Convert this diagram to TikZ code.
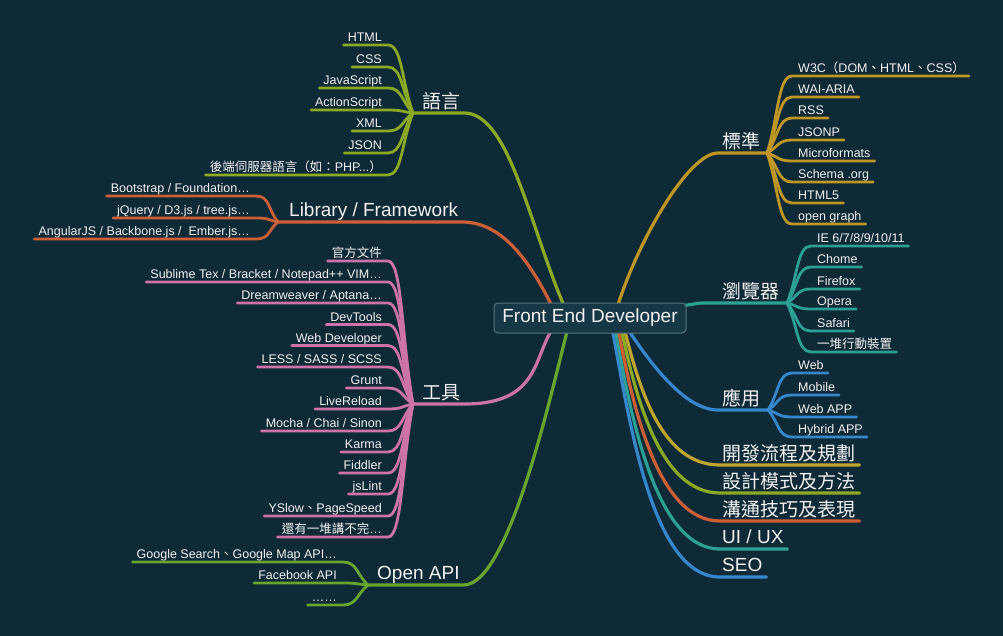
\documentclass[tikz,border=0pt]{standalone}
\usepackage{fontspec}
\setmainfont{Liberation Sans}
\newfontfamily\cjk{Noto Sans CJK TC}
\usetikzlibrary{calc}
\definecolor{bg}{RGB}{15,42,55}
\definecolor{boxfill}{RGB}{22,56,70}
\definecolor{boxdraw}{RGB}{85,115,125}
\definecolor{clang}{RGB}{138,170,35}
\definecolor{clib}{RGB}{205,95,55}
\definecolor{ctool}{RGB}{205,115,170}
\definecolor{capi}{RGB}{105,165,45}
\definecolor{cstd}{RGB}{190,150,35}
\definecolor{cbro}{RGB}{45,160,150}
\definecolor{capp}{RGB}{55,135,205}
\definecolor{cdev}{RGB}{190,165,45}
\definecolor{txt}{RGB}{242,242,242}
\tikzset{
  leafline/.style={line width=2.8pt,line cap=round},
  mainline/.style={line width=3.2pt,line cap=round},
  lefttext/.style={anchor=base east,inner xsep=4pt,inner ysep=0pt,text=txt,font=\fontsize{12.5}{15}\selectfont},
  righttext/.style={anchor=base west,inner xsep=4pt,inner ysep=0pt,text=txt,font=\fontsize{12.5}{15}\selectfont},
  topic/.style={anchor=base west,inner xsep=4pt,inner ysep=0pt,text=txt,font=\fontsize{19}{22}\selectfont},
  centerbox/.style={fill=boxfill,draw=boxdraw,line width=1pt,rounded corners=4pt,minimum width=192pt,minimum height=30pt,inner sep=0pt,text=txt,font=\fontsize{19}{22}\selectfont}
}
\newcommand\lleaf[6]{%
  \node[lefttext] (#1) at (#4+4,#5-3.5) {#6};
  \coordinate (#1e) at (#4+6,#5);
  \draw[leafline,#3] (#2) .. controls ($(#2)!0.45!(#1e)$) and +(14,0) .. (#1e) -- (#1.west |- #1e);
}
\newcommand\rleaf[6]{%
  \node[righttext] (#1) at (#4-4,#5-3.5) {#6};
  \coordinate (#1e) at (#4-6,#5);
  \draw[leafline,#3] (#2) .. controls ($(#2)!0.45!(#1e)$) and +(-14,0) .. (#1e) -- (#1.east |- #1e);
}
\begin{document}
\begin{tikzpicture}[x=1pt,y=-1pt]
\useasboundingbox (0,0) rectangle (1003,636);
\fill[bg] (0,0) rectangle (1003,636);

% junctions and attach points
\coordinate (Jlang) at (413,113);
\coordinate (Jlib) at (278,222);
\coordinate (Jtool) at (413,404);
\coordinate (Japi) at (368,585);
\coordinate (Jstd) at (767,153);
\coordinate (Jbro) at (787,303);
\coordinate (Japp) at (768,410);
\coordinate (Clang) at (565,308);
\coordinate (Clib) at (553,308);
\coordinate (Ctool) at (553,328);
\coordinate (Capi) at (568,328);
\coordinate (Cstd) at (617,308);
\coordinate (Cbro) at (680,306);
\coordinate (Capp) at (627,328);
\coordinate (Cdev) at (624,328);
\coordinate (Cdes) at (621,328);
\coordinate (Ccom) at (618,328);
\coordinate (Cui) at (615,328);
\coordinate (Cseo) at (612,328);

% topic labels
\node[topic] (lang) at (418,108.5) {\cjk 語言};
\node[topic] (lib) at (285,216.3) {Library / Framework};
\node[topic] (tool) at (418,399.5) {\cjk 工具};
\node[topic] (api) at (373,579.3) {Open API};
\node[topic] (std) at (718,148.5) {\cjk 標準};
\node[topic] (bro) at (718,298.5) {\cjk 瀏覽器};
\node[topic] (app) at (718,405.5) {\cjk 應用};
\node[topic] (dev) at (718,460.5) {\cjk 開發流程及規劃};
\node[topic] (des) at (718,488.5) {\cjk 設計模式及方法};
\node[topic] (com) at (718,516.5) {\cjk 溝通技巧及表現};
\node[topic] (ui) at (718,543.3) {UI / UX};
\node[topic] (seo) at (718,571.3) {SEO};

\coordinate (Edev) at (720,465);
\coordinate (Edes) at (720,493);
\coordinate (Ecom) at (720,521);
\coordinate (Eui) at (720,549);
\coordinate (Eseo) at (720,577);

% main branches
\draw[mainline,clang] (Jlang) -- (lang.east |- Jlang) .. controls +(45,0) and +(-35,-80) .. (Clang);
\draw[mainline,clib] (Jlib) -- (lib.east |- Jlib) .. controls +(43,0) and +(-20,-40) .. (Clib);
\draw[mainline,ctool] (Jtool) -- (tool.east |- Jtool) .. controls +(75,0) and +(-20,30) .. (Ctool);
\draw[mainline,capi] (Japi) -- (api.east |- Japi) .. controls +(47,0) and +(-13,47) .. (Capi);
\draw[mainline,cstd] (Cstd) .. controls +(20,-65) and +(-30,0) .. (std.west |- Jstd) -- (Jstd);
\draw[mainline,cbro] (Cbro) .. controls +(25,-3) and +(-30,0) .. (bro.west |- Jbro) -- (Jbro);
\draw[mainline,capp] (Capp) .. controls +(20,30) and +(-35,0) .. (app.west |- Japp) -- (Japp);
\draw[mainline,capp] (Cseo) .. controls +(18,95) and +(-68,0) .. (Eseo) -- (seo.east |- Eseo);
\draw[mainline,cbro] (Cui) .. controls +(16,90) and +(-64,0) .. (Eui) -- (ui.east |- Eui);
\draw[mainline,clib] (Ccom) .. controls +(15,80) and +(-62,0) .. (Ecom) -- (com.east |- Ecom);
\draw[mainline,clang] (Cdes) .. controls +(15,70) and +(-60,0) .. (Edes) -- (des.east |- Edes);
\draw[mainline,cdev] (Cdev) .. controls +(15,58) and +(-60,0) .. (Edev) -- (dev.east |- Edev);

% center
\node[centerbox] (center) at (590,318) {Front End Developer};

% language leaves
\lleaf{l1}{Jlang}{clang}{382}{45}{HTML}
\lleaf{l2}{Jlang}{clang}{382}{67}{CSS}
\lleaf{l3}{Jlang}{clang}{382}{88}{JavaScript}
\lleaf{l4}{Jlang}{clang}{382}{110}{ActionScript}
\lleaf{l5}{Jlang}{clang}{382}{131}{XML}
\lleaf{l6}{Jlang}{clang}{382}{153}{JSON}
\lleaf{l7}{Jlang}{clang}{382}{175}{{\cjk 後端伺服器語言（如：}PHP...{\cjk ）}}

% library leaves
\lleaf{b1}{Jlib}{clib}{250}{196}{Bootstrap / Foundation…}
\lleaf{b2}{Jlib}{clib}{250}{218}{jQuery / D3.js / tree.js…}
\lleaf{b3}{Jlib}{clib}{250}{239}{AngularJS / Backbone.js / \ Ember.js…}

% tool leaves
\lleaf{t1}{Jtool}{ctool}{382}{261}{\cjk 官方文件}
\lleaf{t2}{Jtool}{ctool}{382}{282}{Sublime Tex / Bracket / Notepad++ VIM…}
\lleaf{t3}{Jtool}{ctool}{382}{303}{Dreamweaver / Aptana…}
\lleaf{t4}{Jtool}{ctool}{382}{324.5}{DevTools}
\lleaf{t5}{Jtool}{ctool}{382}{345.5}{Web Developer}
\lleaf{t6}{Jtool}{ctool}{382}{367}{LESS / SASS / SCSS}
\lleaf{t7}{Jtool}{ctool}{382}{388}{Grunt}
\lleaf{t8}{Jtool}{ctool}{382}{409}{LiveReload}
\lleaf{t9}{Jtool}{ctool}{382}{431}{Mocha / Chai / Sinon}
\lleaf{t10}{Jtool}{ctool}{382}{452}{Karma}
\lleaf{t11}{Jtool}{ctool}{382}{473}{Fiddler}
\lleaf{t12}{Jtool}{ctool}{382}{494}{jsLint}
\lleaf{t13}{Jtool}{ctool}{382}{516}{YSlow{\cjk 、}PageSpeed}
\lleaf{t14}{Jtool}{ctool}{382}{537}{{\cjk 還有一堆講不完}…}

% open api leaves
\lleaf{a1}{Japi}{capi}{337}{562}{Google Search{\cjk 、}Google Map API…}
\lleaf{a2}{Japi}{capi}{337}{583}{Facebook API}
\lleaf{a3}{Japi}{capi}{337}{605}{……}

% standard leaves
\rleaf{s1}{Jstd}{cstd}{798}{76}{W3C{\cjk （}DOM{\cjk 、}HTML{\cjk 、}CSS{\cjk ）}}
\rleaf{s2}{Jstd}{cstd}{798}{97}{WAI-ARIA}
\rleaf{s3}{Jstd}{cstd}{798}{118}{RSS}
\rleaf{s4}{Jstd}{cstd}{798}{140}{JSONP}
\rleaf{s5}{Jstd}{cstd}{798}{161}{Microformats}
\rleaf{s6}{Jstd}{cstd}{798}{182}{Schema .org}
\rleaf{s7}{Jstd}{cstd}{798}{203}{HTML5}
\rleaf{s8}{Jstd}{cstd}{798}{224}{open graph}

% browser leaves
\rleaf{w1}{Jbro}{cbro}{817}{246}{IE 6/7/8/9/10/11}
\rleaf{w2}{Jbro}{cbro}{817}{267}{Chome}
\rleaf{w3}{Jbro}{cbro}{817}{289}{Firefox}
\rleaf{w4}{Jbro}{cbro}{817}{309}{Opera}
\rleaf{w5}{Jbro}{cbro}{817}{331}{Safari}
\rleaf{w6}{Jbro}{cbro}{817}{352}{\cjk 一堆行動裝置}

% app leaves
\rleaf{p1}{Japp}{capp}{798}{373}{Web}
\rleaf{p2}{Japp}{capp}{798}{395}{Mobile}
\rleaf{p3}{Japp}{capp}{798}{417}{Web APP}
\rleaf{p4}{Japp}{capp}{798}{437}{Hybrid APP}
\end{tikzpicture}
\end{document}
